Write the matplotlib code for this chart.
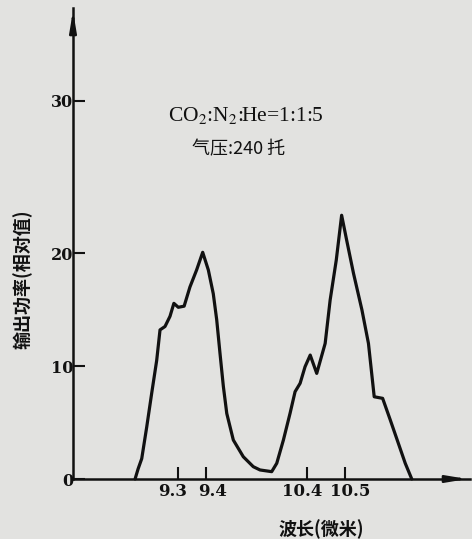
import numpy as np
import matplotlib.pyplot as plt
from matplotlib.transforms import ScaledTranslation

plt.rcParams['mathtext.fontset'] = 'stix'

# laser output spectrum (wavelength in microns, relative power)
wavelength = [9.144, 9.155, 9.168, 9.186, 9.204, 9.222, 9.234, 9.252, 9.270, 9.284,
              9.300, 9.321, 9.342, 9.366, 9.388, 9.423, 9.472, 9.506, 9.539, 9.572,
              9.606, 9.671, 9.770, 9.869, 9.936, 10.052, 10.102, 10.168, 10.234,
              10.284, 10.334, 10.383, 10.409, 10.426, 10.448, 10.461, 10.477, 10.491,
              10.504, 10.522, 10.544, 10.561, 10.576, 10.598, 10.618, 10.639, 10.657,
              10.674]
power = [0.0, 0.9, 1.8, 4.6, 7.6, 10.5, 13.2, 13.5, 14.4, 15.55,
         15.2, 15.3, 17.0, 18.5, 20.05, 18.5, 16.4, 14.1, 11.1, 8.2,
         5.8, 3.45, 1.97, 1.09, 0.8, 0.65, 1.39, 3.45, 5.81,
         7.73, 8.47, 9.94, 10.97, 9.35, 12.0, 15.84, 19.38, 22.48,
         20.86, 18.2, 14.96, 12.0, 7.28, 7.14, 5.22, 3.16, 1.39,
         0.0]

x_ticks = [9.3, 9.4, 10.4, 10.5]
x_tick_labels = ['9.3', '9.4', '10.4', '10.5']
y_ticks = [0, 10, 20, 30]
y_tick_labels = ['0', '10', '20', '30']

# the printed axes are not linear: piecewise mapping taken from the tick spacing
LAM = [8.9, 9.3, 9.4, 10.4, 10.5, 10.9]
LAM_POS = [67.5, 178.3, 206.0, 306.7, 345.0, 498.2]
VAL = [0, 10, 20, 30, 40]
VAL_POS = [0, 10, 20, 33.5, 47]


def xfwd(v):
    return np.interp(v, LAM, LAM_POS)


def xinv(p):
    return np.interp(p, LAM_POS, LAM)


def yfwd(v):
    return np.interp(v, VAL, VAL_POS)


def yinv(p):
    return np.interp(p, VAL_POS, VAL)


bg = '#e2e2e0'
ink = '#111111'
W, H = 472, 539

fig = plt.figure(figsize=(W / 100, H / 100), dpi=100, facecolor=bg)
ax = fig.add_axes([73 / W, 60 / H, (470 - 73) / W, (531 - 60) / H])
ax.set_facecolor(bg)

ax.set_xscale('function', functions=(xfwd, xinv))
ax.set_yscale('function', functions=(yfwd, yinv))
ax.set_xlim(8.92, 10.826)
ax.set_ylim(0, 36.07)

ax.plot(wavelength, power, color=ink, lw=2.3, solid_joinstyle='round',
        solid_capstyle='round', clip_on=False)

for s in ['top', 'right']:
    ax.spines[s].set_visible(False)
for s in ['left', 'bottom']:
    ax.spines[s].set_linewidth(1.8)
    ax.spines[s].set_color(ink)

ax.set_xticks(x_ticks)
ax.set_xticklabels(x_tick_labels)
ax.set_yticks(y_ticks)
ax.set_yticklabels(y_tick_labels)
ax.xaxis.set_minor_locator(plt.NullLocator())
ax.yaxis.set_minor_locator(plt.NullLocator())
ax.tick_params(axis='both', direction='in', length=8.6, width=1.5, color=ink,
               labelcolor=ink)
ax.tick_params(axis='x', pad=3)
ax.tick_params(axis='y', pad=0)
for lab in ax.get_yticklabels():
    lab.set_family('DejaVu Serif')
    lab.set_fontweight('bold')
    lab.set_fontsize(11.5)
# paired labels are pushed apart from their ticks in the print
shifts = [-6, 7, -5, 5]
for lab, dx in zip(ax.get_xticklabels(), shifts):
    lab.set_family('DejaVu Serif')
    lab.set_fontweight('bold')
    lab.set_fontsize(12)
    lab.set_transform(lab.get_transform() +
                      ScaledTranslation(dx / 100, 0, fig.dpi_scale_trans))

# arrow heads on the axes
ax.annotate('', xy=(0, 1.0), xytext=(0, 0.96), xycoords='axes fraction',
            arrowprops=dict(arrowstyle='-|>,head_length=1.2,head_width=0.2',
                            color=ink, lw=1.8), annotation_clip=False)
ax.annotate('', xy=(1.0, 0), xytext=(0.95, 0), xycoords='axes fraction',
            arrowprops=dict(arrowstyle='-|>,head_length=1.2,head_width=0.2',
                            color=ink, lw=1.8), annotation_clip=False)

fig.text(246 / W, 1 - 115 / H, 'CO$_2$:N$_2$:He=1:1:5', ha='center', va='center',
         family='Liberation Serif', fontsize=15.5, color=ink)
fig.text(239 / W, 1 - 149 / H, '气压:240 托', ha='center', va='center',
         family=['Noto Sans CJK SC', 'DejaVu Sans'], fontsize=13, color=ink)
fig.text(23 / W, 1 - 279 / H, '输出功率(相对值)', ha='center', va='center',
         rotation=90, family=['Noto Sans CJK SC', 'DejaVu Sans'], fontsize=13,
         fontweight='bold', color=ink)
fig.text(321 / W, 1 - 529 / H, '波长(微米)', ha='center', va='center',
         family=['Noto Sans CJK SC', 'DejaVu Sans'], fontsize=13,
         fontweight='bold', color=ink)

fig.savefig('out.png', dpi=100, facecolor=bg)
